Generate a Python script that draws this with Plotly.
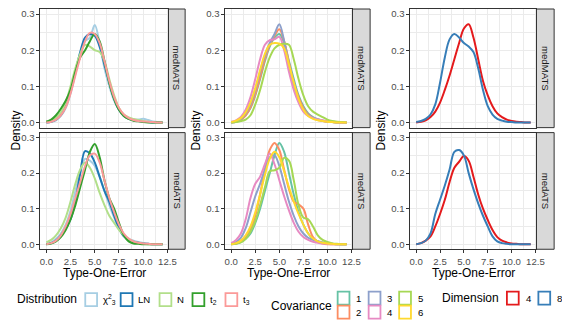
import plotly.graph_objects as go

# evaluation grid of the density curves (Type-One-Error)
X = [0, 0.5, 1, 1.5, 2, 2.5, 3, 3.5, 4, 4.5, 5, 5.5, 6, 6.5, 7, 7.5, 8, 8.5, 9, 9.5, 10, 10.5, 11, 11.5, 12]

# Distribution, medMATS
mats_chisq = [0, 0.001, 0.006, 0.018, 0.04, 0.08, 0.135, 0.19, 0.225, 0.235, 0.27, 0.22, 0.15, 0.1, 0.06, 0.035, 0.02, 0.012, 0.008, 0.008, 0.01, 0.007, 0.003, 0.001, 0]
mats_ln = [0, 0.002, 0.008, 0.02, 0.045, 0.085, 0.14, 0.195, 0.235, 0.245, 0.24, 0.21, 0.16, 0.11, 0.065, 0.035, 0.018, 0.01, 0.006, 0.004, 0.002, 0.001, 0, 0, 0]
mats_n = [0.002, 0.006, 0.014, 0.028, 0.055, 0.1, 0.15, 0.19, 0.215, 0.21, 0.2, 0.195, 0.17, 0.12, 0.075, 0.04, 0.022, 0.014, 0.01, 0.007, 0.004, 0.002, 0.001, 0, 0]
mats_t2 = [0.002, 0.008, 0.02, 0.038, 0.06, 0.09, 0.14, 0.18, 0.2, 0.225, 0.245, 0.225, 0.17, 0.11, 0.065, 0.035, 0.018, 0.01, 0.005, 0.003, 0.001, 0, 0, 0, 0]
mats_t3 = [0, 0.002, 0.008, 0.02, 0.042, 0.08, 0.13, 0.18, 0.225, 0.248, 0.245, 0.22, 0.17, 0.115, 0.07, 0.04, 0.022, 0.012, 0.007, 0.004, 0.003, 0.002, 0.001, 0, 0]

# Distribution, medATS
ats_chisq = [0.001, 0.005, 0.015, 0.03, 0.055, 0.095, 0.15, 0.2, 0.24, 0.235, 0.22, 0.19, 0.15, 0.11, 0.075, 0.045, 0.025, 0.015, 0.01, 0.006, 0.003, 0.001, 0, 0, 0]
ats_ln = [0, 0.003, 0.01, 0.025, 0.045, 0.07, 0.12, 0.2, 0.262, 0.255, 0.23, 0.19, 0.15, 0.12, 0.08, 0.045, 0.022, 0.012, 0.007, 0.004, 0.002, 0.001, 0, 0, 0]
ats_n = [0.005, 0.012, 0.025, 0.045, 0.075, 0.12, 0.17, 0.21, 0.23, 0.215, 0.185, 0.145, 0.11, 0.08, 0.06, 0.04, 0.025, 0.014, 0.007, 0.003, 0.001, 0, 0, 0, 0]
ats_t2 = [0, 0.002, 0.008, 0.02, 0.04, 0.07, 0.11, 0.16, 0.21, 0.26, 0.282, 0.245, 0.18, 0.13, 0.1, 0.06, 0.025, 0.008, 0.002, 0.001, 0, 0, 0, 0, 0]
ats_t3 = [0, 0.003, 0.01, 0.025, 0.05, 0.085, 0.13, 0.175, 0.22, 0.25, 0.255, 0.23, 0.18, 0.13, 0.09, 0.055, 0.03, 0.016, 0.008, 0.004, 0.002, 0.001, 0, 0, 0]

# Covariance, medMATS
mats_cov1 = [0, 0.002, 0.008, 0.02, 0.04, 0.075, 0.12, 0.17, 0.21, 0.235, 0.245, 0.22, 0.17, 0.12, 0.075, 0.045, 0.025, 0.015, 0.009, 0.005, 0.003, 0.001, 0, 0, 0]
mats_cov2 = [0, 0.002, 0.008, 0.02, 0.042, 0.078, 0.125, 0.175, 0.215, 0.24, 0.258, 0.225, 0.165, 0.11, 0.07, 0.04, 0.022, 0.012, 0.007, 0.004, 0.002, 0.001, 0, 0, 0]
mats_cov3 = [0, 0.003, 0.01, 0.025, 0.05, 0.09, 0.14, 0.185, 0.22, 0.245, 0.272, 0.225, 0.155, 0.1, 0.06, 0.035, 0.02, 0.012, 0.008, 0.005, 0.003, 0.001, 0, 0, 0]
mats_cov4 = [0.002, 0.006, 0.015, 0.035, 0.07, 0.12, 0.175, 0.215, 0.228, 0.23, 0.237, 0.2, 0.14, 0.09, 0.055, 0.03, 0.018, 0.012, 0.008, 0.006, 0.004, 0.002, 0.001, 0, 0]
mats_cov5 = [0, 0.001, 0.004, 0.008, 0.02, 0.05, 0.09, 0.14, 0.18, 0.205, 0.215, 0.218, 0.215, 0.175, 0.12, 0.075, 0.045, 0.03, 0.022, 0.015, 0.008, 0.004, 0.002, 0.001, 0]
mats_cov6 = [0.001, 0.005, 0.012, 0.028, 0.055, 0.095, 0.145, 0.19, 0.215, 0.22, 0.218, 0.205, 0.16, 0.11, 0.065, 0.035, 0.018, 0.01, 0.006, 0.004, 0.002, 0.001, 0, 0, 0]

# Covariance, medATS
ats_cov1 = [0, 0.002, 0.006, 0.015, 0.03, 0.06, 0.1, 0.15, 0.2, 0.25, 0.285, 0.26, 0.2, 0.14, 0.09, 0.055, 0.03, 0.015, 0.008, 0.004, 0.002, 0.001, 0, 0, 0]
ats_cov2 = [0, 0.002, 0.007, 0.018, 0.04, 0.08, 0.14, 0.21, 0.265, 0.285, 0.265, 0.21, 0.155, 0.12, 0.112, 0.1, 0.055, 0.02, 0.007, 0.002, 0, 0, 0, 0, 0]
ats_cov3 = [0.001, 0.006, 0.018, 0.045, 0.09, 0.135, 0.17, 0.21, 0.245, 0.25, 0.22, 0.17, 0.12, 0.08, 0.05, 0.03, 0.018, 0.012, 0.008, 0.005, 0.003, 0.001, 0, 0, 0]
ats_cov4 = [0.003, 0.012, 0.03, 0.07, 0.13, 0.17, 0.19, 0.225, 0.255, 0.225, 0.18, 0.135, 0.095, 0.06, 0.035, 0.02, 0.012, 0.007, 0.004, 0.002, 0.001, 0, 0, 0, 0]
ats_cov5 = [0, 0.001, 0.005, 0.015, 0.035, 0.065, 0.11, 0.16, 0.205, 0.208, 0.215, 0.243, 0.235, 0.18, 0.11, 0.075, 0.07, 0.05, 0.025, 0.012, 0.006, 0.002, 0.001, 0, 0]
ats_cov6 = [0, 0.003, 0.01, 0.025, 0.05, 0.09, 0.14, 0.195, 0.24, 0.26, 0.245, 0.205, 0.16, 0.12, 0.085, 0.055, 0.03, 0.016, 0.008, 0.004, 0.002, 0.001, 0, 0, 0]

# Dimension, medMATS
mats_dim4 = [0, 0.002, 0.006, 0.015, 0.03, 0.055, 0.09, 0.13, 0.175, 0.22, 0.26, 0.272, 0.235, 0.175, 0.115, 0.075, 0.045, 0.025, 0.015, 0.008, 0.004, 0.002, 0.001, 0, 0]
mats_dim8 = [0.001, 0.004, 0.01, 0.022, 0.05, 0.11, 0.18, 0.23, 0.245, 0.235, 0.22, 0.21, 0.195, 0.15, 0.09, 0.045, 0.022, 0.01, 0.005, 0.002, 0.001, 0, 0, 0, 0]

# Dimension, medATS
ats_dim4 = [0, 0.003, 0.01, 0.022, 0.05, 0.085, 0.125, 0.175, 0.215, 0.232, 0.248, 0.235, 0.19, 0.14, 0.1, 0.068, 0.04, 0.02, 0.01, 0.005, 0.002, 0.001, 0, 0, 0]
ats_dim8 = [0, 0.003, 0.01, 0.03, 0.085, 0.125, 0.165, 0.21, 0.26, 0.265, 0.25, 0.2, 0.155, 0.115, 0.08, 0.05, 0.022, 0.008, 0.003, 0.001, 0, 0, 0, 0, 0]

dist_names = ["χ<sup>2</sup><sub>3</sub>", "LN", "N", "t<sub>2</sub>", "t<sub>3</sub>"]
dist_colors = ["#A6CEE3", "#1F78B4", "#B2DF8A", "#33A02C", "#FB9A99"]
cov_names = ["1", "2", "3", "4", "5", "6"]
cov_colors = ["#66C2A5", "#FC8D62", "#8DA0CB", "#E78AC3", "#A6D854", "#FFD92F"]
dim_names = ["4", "8"]
dim_colors = ["#E41A1C", "#377EB8"]

panels = [
    (dist_names, dist_colors, [mats_chisq, mats_ln, mats_n, mats_t2, mats_t3], [ats_chisq, ats_ln, ats_n, ats_t2, ats_t3]),
    (cov_names, cov_colors, [mats_cov1, mats_cov2, mats_cov3, mats_cov4, mats_cov5, mats_cov6],
     [ats_cov1, ats_cov2, ats_cov3, ats_cov4, ats_cov5, ats_cov6]),
    (dim_names, dim_colors, [mats_dim4, mats_dim8], [ats_dim4, ats_dim8]),
]
rows = ["medMATS", "medATS"]

# the page body has an 8px margin, so the figure starts at (8, 8) of the window
OFF = 8
W, H = 570 - OFF, 332 - OFF
def px(x):
    return (x - OFF) / W
def py(y):
    return 1 - (y - OFF) / H

col_box = [(40, 170, 187), (228, 357, 375), (416, 544, 562)]
row_box = [(8, 127), (132, 249)]

fig = go.Figure()
layout = {}
shapes = []
annotations = []
font = "Liberation Sans, Arial, sans-serif"

def note(text, x, y, size, color="black", angle=0, xanchor="center"):
    annotations.append(dict(text=text, xref="paper", yref="paper", x=px(x), y=py(y), xanchor=xanchor,
                            yanchor="middle", showarrow=False, textangle=angle, font=dict(size=size, color=color)))

for c, (names, colors, top, bottom) in enumerate(panels):
    left, right, strip_r = col_box[c]
    for r, series in enumerate([top, bottom]):
        k = c * 2 + r + 1
        sfx = "" if k == 1 else str(k)
        for name, color, y in zip(names, colors, series):
            fig.add_trace(go.Scatter(x=X, y=y, name=name, mode="lines", line=dict(color=color, width=2, shape="spline"),
                                     showlegend=False, xaxis="x" + sfx, yaxis="y" + sfx))
        t, b = row_box[r]
        layout["xaxis" + sfx] = dict(domain=[px(left), px(right)], anchor="y" + sfx, range=[-0.6, 12.6],
                                     tick0=0, dtick=2.5, tickformat=".1f", showticklabels=(r == 1),
                                     ticks="outside" if r == 1 else "", ticklen=3, tickcolor="#333333",
                                     showgrid=True, gridcolor="#EBEBEB", gridwidth=1,
                                     minor=dict(dtick=1.25, showgrid=True, gridcolor="#EBEBEB", gridwidth=0.6),
                                     showline=True, mirror=True, linecolor="#333333", linewidth=1, zeroline=False,
                                     tickfont=dict(size=9.6, color="#4D4D4D"))
        layout["yaxis" + sfx] = dict(domain=[py(b), py(t)], anchor="x" + sfx, range=[-0.0143, 0.314],
                                     tick0=0, dtick=0.1, tickformat=".1f", ticks="outside", ticklen=3,
                                     tickcolor="#333333", showgrid=True, gridcolor="#EBEBEB", gridwidth=1,
                                     minor=dict(dtick=0.05, showgrid=True, gridcolor="#EBEBEB", gridwidth=0.6),
                                     showline=True, mirror=True, linecolor="#333333", linewidth=1, zeroline=False,
                                     tickfont=dict(size=9.6, color="#4D4D4D"))
        # facet strip on the right
        shapes.append(dict(type="rect", xref="paper", yref="paper", x0=px(right), x1=px(strip_r), y0=py(b), y1=py(t),
                           fillcolor="#D9D9D9", line=dict(color="#333333", width=1), layer="below"))
        note(rows[r], (right + strip_r) / 2, (t + b) / 2, 9.6, "#1A1A1A", 90)
    note("Density", max(left - 30, 15), 130, 12, angle=-90)
    note("Type-One-Error", (left + right) / 2, 273, 12)

# hand-built legends along the bottom (ggplot style hollow keys)
def legend_key(cx, cy, color, label, lx):
    shapes.append(dict(type="rect", xref="paper", yref="paper", x0=px(cx - 6), x1=px(cx + 6), y0=py(cy + 6.5),
                       y1=py(cy - 6.5), fillcolor="white", line=dict(color=color, width=1.8)))
    note(label, lx, cy, 9.6, xanchor="left")

note("Distribution", 14, 299, 12, xanchor="left")
for cx, name, color in zip([91.5, 127.5, 167, 200.5, 234], dist_names, dist_colors):
    legend_key(cx, 299.5, color, name, cx + 10)

note("Covariance", 272, 306, 12, xanchor="left")
cov_pos = [(348, 298), (348, 312), (379.5, 298), (379.5, 312), (410.5, 298), (410.5, 312)]
for (cx, cy), name, color in zip(cov_pos, cov_names, cov_colors):
    legend_key(cx, cy, color, name, cx + 11)

note("Dimension", 446, 298, 12, xanchor="left")
for cx, name, color in zip([520, 552], dim_names, dim_colors):
    legend_key(cx, 298, color, name, cx + 11)

fig.update_layout(width=W, height=H, autosize=False, margin=dict(l=0, r=0, t=0, b=0),
                  plot_bgcolor="white", paper_bgcolor="white", showlegend=False,
                  font=dict(family=font, color="black"), shapes=shapes, annotations=annotations, **layout)
fig.write_html("out.html")
